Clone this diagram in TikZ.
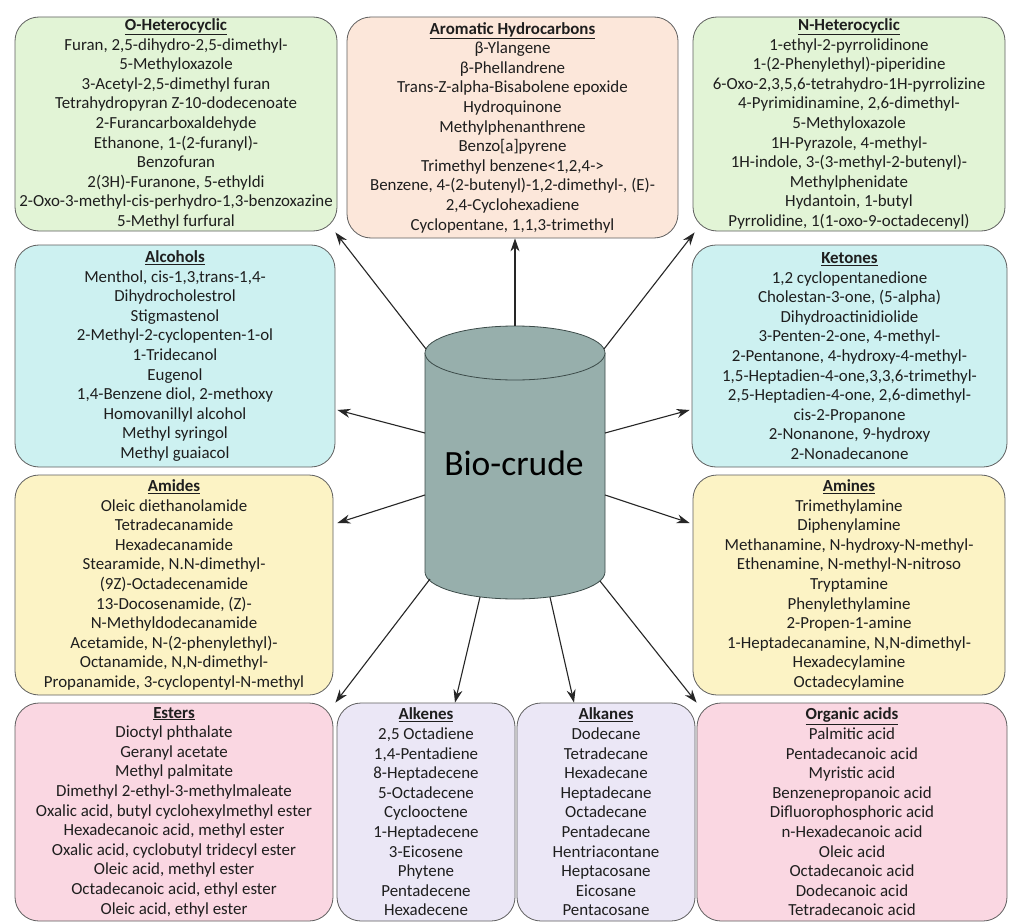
\documentclass[tikz,border=0pt]{standalone}
\usepackage{fontspec}
\setmainfont{Carlito}
\usetikzlibrary{arrows.meta,calc}
\definecolor{grn}{RGB}{226,244,214}
\definecolor{peach}{RGB}{252,231,218}
\definecolor{cyanbox}{RGB}{205,241,241}
\definecolor{yel}{RGB}{252,243,197}
\definecolor{pinkbox}{RGB}{250,215,226}
\definecolor{lav}{RGB}{235,231,246}
\definecolor{boxline}{RGB}{95,95,95}
\definecolor{txt}{RGB}{30,30,30}
\definecolor{cylfill}{RGB}{151,175,172}
\definecolor{cylline}{RGB}{60,75,73}
\newcommand{\hd}[1]{\textbf{\underline{#1}}}
\begin{document}
\begin{tikzpicture}[x=1pt,y=-1pt,
  box/.style={draw=boxline, line width=0.8pt, rounded corners=24pt, align=center,
    inner sep=0pt, text=txt, font=\fontsize{16.9}{19.6}\selectfont},
  flow/.style={-{Stealth[length=13pt,width=9pt]}, line width=1.1pt, draw=black!85}]
\useasboundingbox (0,0) rectangle (1010,923);
\fill[white] (0,0) rectangle (1010,923);

% ---- category boxes ----
\node[box, fill=grn, minimum width=322pt, minimum height=214pt] (ohet) at (176,124)
 {\hd{O-Heterocyclic}\\ Furan, 2,5-dihydro-2,5-dimethyl-\\ 5-Methyloxazole\\ 3-Acetyl-2,5-dimethyl furan\\
  Tetrahydropyran Z-10-dodecenoate\\ 2-Furancarboxaldehyde\\ Ethanone, 1-(2-furanyl)-\\ Benzofuran\\
  2(3H)-Furanone, 5-ethyldi\\ 2-Oxo-3-methyl-cis-perhydro-1,3-benzoxazine\\ 5-Methyl furfural};

\node[box, fill=peach, minimum width=331pt, minimum height=221pt] (arom) at (512.5,127.5)
 {\hd{Aromatic Hydrocarbons}\\ β-Ylangene\\ β-Phellandrene\\ Trans-Z-alpha-Bisabolene epoxide\\
  Hydroquinone\\ Methylphenanthrene\\ Benzo[a]pyrene\\ Trimethyl benzene<1,2,4->\\
  Benzene, 4-(2-butenyl)-1,2-dimethyl-, (E)-\\ 2,4-Cyclohexadiene\\ Cyclopentane, 1,1,3-trimethyl};

\node[box, fill=grn, minimum width=312pt, minimum height=214pt] (nhet) at (849,124)
 {\hd{N-Heterocyclic}\\ 1-ethyl-2-pyrrolidinone\\ 1-(2-Phenylethyl)-piperidine\\
  6-Oxo-2,3,5,6-tetrahydro-1H-pyrrolizine\\ 4-Pyrimidinamine, 2,6-dimethyl-\\ 5-Methyloxazole\\
  1H-Pyrazole, 4-methyl-\\ 1H-indole, 3-(3-methyl-2-butenyl)-\\ Methylphenidate\\ Hydantoin, 1-butyl\\
  Pyrrolidine, 1(1-oxo-9-octadecenyl)};

\node[box, fill=cyanbox, minimum width=320pt, minimum height=222pt] (alco) at (175,356)
 {\hd{Alcohols}\\ Menthol, cis-1,3,trans-1,4-\\ Dihydrocholestrol\\ Stigmastenol\\
  2-Methyl-2-cyclopenten-1-ol\\ 1-Tridecanol\\ Eugenol\\ 1,4-Benzene diol, 2-methoxy\\
  Homovanillyl alcohol\\ Methyl syringol\\ Methyl guaiacol};

\node[box, fill=cyanbox, minimum width=315pt, minimum height=222pt] (keto) at (849.5,356)
 {\hd{Ketones}\\ 1,2 cyclopentanedione\\ Cholestan-3-one, (5-alpha)\\ Dihydroactinidiolide\\
  3-Penten-2-one, 4-methyl-\\ 2-Pentanone, 4-hydroxy-4-methyl-\\ 1,5-Heptadien-4-one,3,3,6-trimethyl-\\
  2,5-Heptadien-4-one, 2,6-dimethyl-\\ cis-2-Propanone\\ 2-Nonanone, 9-hydroxy\\ 2-Nonadecanone};

\node[box, fill=yel, minimum width=318pt, minimum height=220pt] (amid) at (174,585)
 {\hd{Amides}\\ Oleic diethanolamide\\ Tetradecanamide\\ Hexadecanamide\\ Stearamide, N.N-dimethyl-\\
  (9Z)-Octadecenamide\\ 13-Docosenamide, (Z)-\\ N-Methyldodecanamide\\ Acetamide, N-(2-phenylethyl)-\\
  Octanamide, N,N-dimethyl-\\ Propanamide, 3-cyclopentyl-N-methyl};

\node[box, fill=yel, minimum width=312pt, minimum height=220pt] (amin) at (849,585)
 {\hd{Amines}\\ Trimethylamine\\ Diphenylamine\\ Methanamine, N-hydroxy-N-methyl-\\
  Ethenamine, N-methyl-N-nitroso\\ Tryptamine\\ Phenylethylamine\\ 2-Propen-1-amine\\
  1-Heptadecanamine, N,N-dimethyl-\\ Hexadecylamine\\ Octadecylamine};

\node[box, fill=pinkbox, minimum width=318pt, minimum height=218pt] (este) at (174,812)
 {\hd{Esters}\\ Dioctyl phthalate\\ Geranyl acetate\\ Methyl palmitate\\ Dimethyl 2-ethyl-3-methylmaleate\\
  Oxalic acid, butyl cyclohexylmethyl ester\\ Hexadecanoic acid, methyl ester\\
  Oxalic acid, cyclobutyl tridecyl ester\\ Oleic acid, methyl ester\\ Octadecanoic acid, ethyl ester\\
  Oleic acid, ethyl ester};

\node[box, fill=lav, minimum width=178pt, minimum height=218pt] (alke) at (426,812)
 {\hd{Alkenes}\\ 2,5 Octadiene\\ 1,4-Pentadiene\\ 8-Heptadecene\\ 5-Octadecene\\ Cyclooctene\\
  1-Heptadecene\\ 3-Eicosene\\ Phytene\\ Pentadecene\\ Hexadecene};

\node[box, fill=lav, minimum width=178pt, minimum height=218pt] (alka) at (606,812)
 {\hd{Alkanes}\\ Dodecane\\ Tetradecane\\ Hexadecane\\ Heptadecane\\ Octadecane\\ Pentadecane\\
  Hentriacontane\\ Heptacosane\\ Eicosane\\ Pentacosane};

\node[box, fill=pinkbox, minimum width=310pt, minimum height=218pt] (orga) at (852,812)
 {\hd{Organic acids}\\ Palmitic acid\\ Pentadecanoic acid\\ Myristic acid\\ Benzenepropanoic acid\\
  Difluorophosphoric acid\\ n-Hexadecanoic acid\\ Oleic acid\\ Octadecanoic acid\\ Dodecanoic acid\\
  Tetradecanoic acid};

% ---- central cylinder ----
\fill[cylfill] (425,353) -- (425,572) arc[start angle=180, end angle=360, x radius=90, y radius=-27]
  -- (605,353) -- cycle;
\draw[cylline, line width=0.8pt] (425,353) -- (425,572) arc[start angle=180, end angle=360, x radius=90, y radius=-27]
  -- (605,353);
\draw[cylline, line width=0.8pt, fill=cylfill] (515,353) ellipse[x radius=90, y radius=27];
\node[text=black, font=\fontsize{35.5}{42}\selectfont] (bio) at (514,463) {Bio-crude};

% points on the cylinder where the connectors leave
\coordinate (cTop) at (515,326);
\coordinate (cNW) at (426,349);
\coordinate (cNE) at (604,349);
\coordinate (cW1) at (425,433);
\coordinate (cE1) at (605,433);
\coordinate (cW2) at (425,495);
\coordinate (cE2) at (605,495);
\coordinate (cSW) at (430,579);
\coordinate (cS1) at (480,597);
\coordinate (cS2) at (550,597);
\coordinate (cSE) at (600,581);

% ---- connectors ----
\draw[flow] (cTop) -- ([xshift=2.5pt]arom.south);
\draw[flow] (cNW) -- ([xshift=-2pt,yshift=-1pt]ohet.south east);
\draw[flow] (cNE) -- ([xshift=2pt,yshift=-1pt]nhet.south west);
\draw[flow] (cW1) -- ([xshift=2pt,yshift=-54pt]alco.east);
\draw[flow] (cE1) -- ([xshift=-2pt,yshift=-54pt]keto.west);
\draw[flow] (cW2) -- ([xshift=4pt,yshift=62pt]amid.east);
\draw[flow] (cE2) -- ([xshift=-3pt,yshift=62pt]amin.west);
\draw[flow] (cSW) -- ([xshift=2pt]este.north east);
\draw[flow] (cS1) -- ([xshift=29pt]alke.north);
\draw[flow] (cS2) -- ([xshift=-32pt]alka.north);
\draw[flow] (cSE) -- ([xshift=0pt]orga.north west);
\end{tikzpicture}
\end{document}
